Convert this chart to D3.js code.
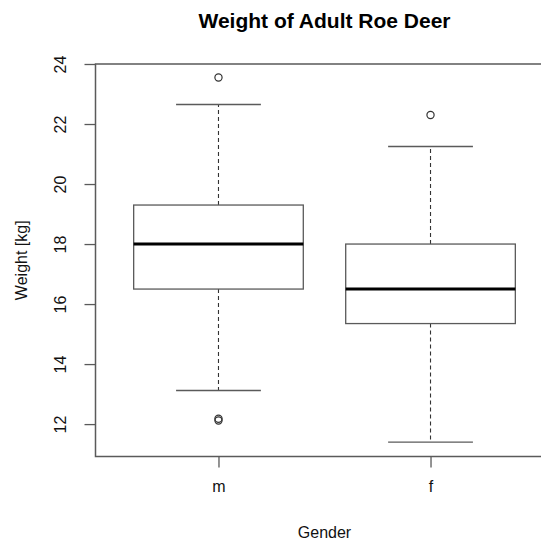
<!DOCTYPE html>
<html>
<head>
<meta charset="utf-8">
<script src="https://cdn.jsdelivr.net/npm/d3@7"></script>
<style>
	body { margin: 0; background: #fff; }
	svg { display: block; font-family: "Liberation Sans", Arial, sans-serif; }
</style>
</head>
<body>
<div id="chart-area"></div>
<script>
// Box summaries per gender (kg)
var categories = ["m", "f"];
var lowerWhisker = [13.12, 11.4];
var lowerQuartile = [16.5, 15.35];
var medians = [18.0, 16.5];
var upperQuartile = [19.3, 18.0];
var upperWhisker = [22.65, 21.25];

// Outliers, one entry per point
var outlierGroup = ["m", "m", "m", "f"];
var outlierValues = [23.55, 12.18, 12.12, 22.3];

var yTicks = [12, 14, 16, 18, 20, 22, 24];

var width = 541,
	height = 543;

var plot = {left: 95.5, right: 553.5, top: 64, bottom: 456.5};
var lineColor = "#5a5a5a";

var svg = d3.select("#chart-area").append("svg")
	.attr("width", width)
	.attr("height", height);

// R style: axis range stretched 4% past the data
var x = d3.scaleLinear()
	.domain([0.42, 2.58])
	.range([plot.left, plot.right]);

var y = d3.scaleLinear()
	.domain([10.92, 24.0])
	.range([plot.bottom, plot.top]);

var boxes = categories.map(function(c, i) {
	return {
		name: c,
		pos: i + 1,
		lo: lowerWhisker[i],
		q1: lowerQuartile[i],
		med: medians[i],
		q3: upperQuartile[i],
		hi: upperWhisker[i]
	};
});

var boxHalf = 0.4,
	capHalf = 0.2;

var g = svg.selectAll(".box")
	.data(boxes)
	.enter()
	.append("g")
	.attr("class", "box");

// dashed whiskers
g.append("line")
	.attr("x1", function(d) { return x(d.pos); })
	.attr("x2", function(d) { return x(d.pos); })
	.attr("y1", function(d) { return y(d.q3); })
	.attr("y2", function(d) { return y(d.hi); })
	.attr("stroke", "#333")
	.attr("stroke-width", 1.1)
	.attr("stroke-dasharray", "4,3");
g.append("line")
	.attr("x1", function(d) { return x(d.pos); })
	.attr("x2", function(d) { return x(d.pos); })
	.attr("y1", function(d) { return y(d.q1); })
	.attr("y2", function(d) { return y(d.lo); })
	.attr("stroke", "#333")
	.attr("stroke-width", 1.1)
	.attr("stroke-dasharray", "4,3");

// staples
["hi", "lo"].forEach(function(k) {
	g.append("line")
		.attr("x1", function(d) { return x(d.pos - capHalf); })
		.attr("x2", function(d) { return x(d.pos + capHalf); })
		.attr("y1", function(d) { return y(d[k]); })
		.attr("y2", function(d) { return y(d[k]); })
		.attr("stroke", lineColor)
		.attr("stroke-width", 1.3);
});

g.append("rect")
	.attr("x", function(d) { return x(d.pos - boxHalf); })
	.attr("width", function(d) { return x(d.pos + boxHalf) - x(d.pos - boxHalf); })
	.attr("y", function(d) { return y(d.q3); })
	.attr("height", function(d) { return y(d.q1) - y(d.q3); })
	.attr("fill", "none")
	.attr("stroke", lineColor)
	.attr("stroke-width", 1.3);

g.append("line")
	.attr("x1", function(d) { return x(d.pos - boxHalf); })
	.attr("x2", function(d) { return x(d.pos + boxHalf); })
	.attr("y1", function(d) { return y(d.med); })
	.attr("y2", function(d) { return y(d.med); })
	.attr("stroke", "#000")
	.attr("stroke-width", 3);

svg.selectAll(".outlier")
	.data(outlierValues)
	.enter()
	.append("circle")
	.attr("class", "outlier")
	.attr("cx", function(d, i) { return x(categories.indexOf(outlierGroup[i]) + 1); })
	.attr("cy", function(d) { return y(d); })
	.attr("r", 3.6)
	.attr("fill", "none")
	.attr("stroke", "#333")
	.attr("stroke-width", 1.2);

// frame
svg.append("rect")
	.attr("x", plot.left)
	.attr("y", plot.top)
	.attr("width", plot.right - plot.left)
	.attr("height", plot.bottom - plot.top)
	.attr("fill", "none")
	.attr("stroke", lineColor)
	.attr("stroke-width", 1.5);

// axes
var xAxis = d3.axisBottom(x)
	.tickValues([1, 2])
	.tickFormat(function(d) { return categories[d - 1]; })
	.tickSize(11)
	.tickPadding(13);

var yAxis = d3.axisLeft(y)
	.tickValues(yTicks)
	.tickSize(11);

var xg = svg.append("g")
	.attr("class", "axis xAxis")
	.attr("transform", "translate(0," + plot.bottom + ")")
	.call(xAxis);

var yg = svg.append("g")
	.attr("class", "axis yAxis")
	.attr("transform", "translate(" + plot.left + ",0)")
	.call(yAxis);

[xg, yg].forEach(function(a) {
	a.select(".domain").remove();
	a.selectAll(".tick line").attr("stroke", lineColor).attr("stroke-width", 1.3);
	a.selectAll("text")
		.attr("font-family", "Liberation Sans, Arial, sans-serif")
		.attr("font-size", 16)
		.attr("fill", "#111");
});

// R draws y labels parallel to the axis
yg.selectAll(".tick text")
	.attr("transform", "rotate(-90)")
	.attr("x", 0)
	.attr("y", -30)
	.attr("dy", 0)
	.attr("text-anchor", "middle");

// titles
svg.append("text")
	.attr("x", (plot.left + plot.right) / 2)
	.attr("y", 28)
	.attr("text-anchor", "middle")
	.attr("font-size", 21)
	.attr("font-weight", "bold")
	.attr("fill", "#000")
	.text("Weight of Adult Roe Deer");

svg.append("text")
	.attr("x", (plot.left + plot.right) / 2)
	.attr("y", 538)
	.attr("text-anchor", "middle")
	.attr("font-size", 16)
	.attr("fill", "#111")
	.text("Gender");

svg.append("text")
	.attr("transform", "translate(27," + (plot.top + plot.bottom) / 2 + ") rotate(-90)")
	.attr("text-anchor", "middle")
	.attr("font-size", 16)
	.attr("fill", "#111")
	.text("Weight [kg]");
</script>
</body>
</html>
